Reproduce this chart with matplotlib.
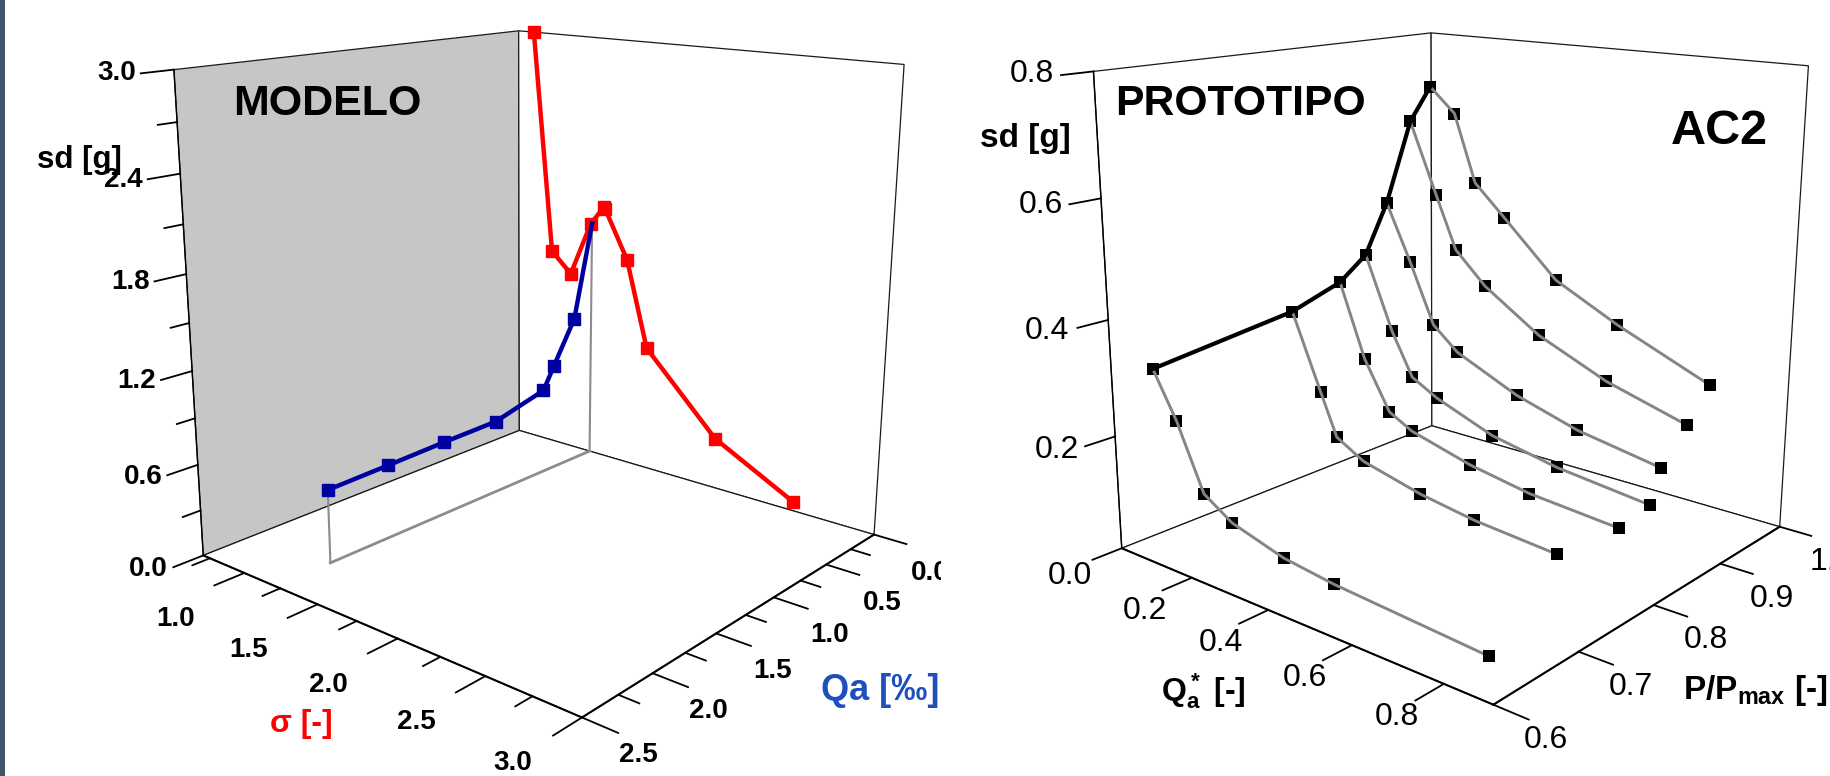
import matplotlib
matplotlib.use('Agg')
import matplotlib.pyplot as plt
from matplotlib.patches import Rectangle
from matplotlib.transforms import ScaledTranslation
from mpl_toolkits.mplot3d import proj3d

plt.rcParams['font.family'] = ['Liberation Sans', 'DejaVu Sans']
plt.rcParams['mathtext.fontset'] = 'custom'
plt.rcParams['mathtext.bf'] = 'Liberation Sans:bold'
plt.rcParams['mathtext.rm'] = 'Liberation Sans'

W, H = 1831, 776

# MODELO
red_sigma = [0.808, 0.941, 1.075, 1.211, 1.300, 1.309, 1.459, 1.599, 2.053, 2.538]
red_sd = [2.999, 1.448, 1.308, 1.701, 1.837, 1.821, 1.491, 0.887, 0.358, 0.063]
blue_sigma = 1.22
blue_qa = [2.135, 1.706, 1.286, 0.859, 0.440, 0.347, 0.159, 0.0]
blue_sd = [0.480, 0.489, 0.500, 0.506, 0.601, 0.751, 1.049, 1.705]
model_x_major = [1.0, 1.5, 2.0, 2.5, 3.0]
model_x_minor = [0.75, 1.25, 1.75, 2.25, 2.75]
model_y_major = [0.0, 0.5, 1.0, 1.5, 2.0, 2.5]
model_y_minor = [0.25, 0.75, 1.25, 1.75, 2.25]
model_z_major = [0.0, 0.6, 1.2, 1.8, 2.4, 3.0]
model_z_minor = [0.3, 0.9, 1.5, 2.1, 2.7]

# PROTOTIPO
proto_p = [0.607, 0.763, 0.823, 0.857, 0.886, 0.919, 0.947]
proto_qa = [
    [0.100, 0.159, 0.225, 0.297, 0.426, 0.546, 0.878],
    [0.100, 0.173, 0.215, 0.286, 0.431, 0.562, 0.750],
    [0.100, 0.165, 0.231, 0.291, 0.440, 0.585, 0.789],
    [0.100, 0.171, 0.225, 0.291, 0.434, 0.592, 0.804],
    [0.100, 0.164, 0.226, 0.290, 0.443, 0.591, 0.782],
    [0.100, 0.170, 0.223, 0.301, 0.439, 0.605, 0.791],
    [0.100, 0.166, 0.222, 0.300, 0.433, 0.584, 0.798],
]
proto_sd = [
    [0.332, 0.256, 0.147, 0.115, 0.089, 0.078, 0.061],
    [0.361, 0.228, 0.153, 0.124, 0.098, 0.083, 0.072],
    [0.390, 0.258, 0.171, 0.147, 0.117, 0.098, 0.086],
    [0.428, 0.295, 0.218, 0.191, 0.150, 0.126, 0.108],
    [0.515, 0.412, 0.304, 0.263, 0.211, 0.177, 0.151],
    [0.657, 0.528, 0.432, 0.375, 0.306, 0.251, 0.209],
    [0.715, 0.671, 0.548, 0.492, 0.395, 0.337, 0.267],
]
proto_x_ticks = [0.2, 0.4, 0.6, 0.8]
proto_y_ticks = [0.6, 0.7, 0.8, 0.9, 1.0]
proto_z_ticks = [0.0, 0.2, 0.4, 0.6, 0.8]


def make_axes(fig, lims, view, size, cx, cy, aspect, left_wall):
    ax = fig.add_axes([(cx - size/2)/W, 1 - (cy + size/2)/H, size/W, size/H], projection='3d')
    ax.patch.set_visible(False)
    ax.computed_zorder = False
    ax.set_xlim(*lims[0], view_margin=0)
    ax.set_ylim(*lims[1], view_margin=0)
    ax.set_zlim(*lims[2], view_margin=0)
    ax.view_init(elev=view[0], azim=view[1], roll=view[2])
    ax.set_proj_type('persp', focal_length=view[3])
    ax.set_box_aspect(aspect)
    ax.grid(False)
    ax.xaxis.set_pane_color(left_wall)
    ax.yaxis.set_pane_color('white')
    ax.zaxis.set_pane_color('white')
    for axis in (ax.xaxis, ax.yaxis, ax.zaxis):
        axis.pane.set_closed(True)
        axis.pane.set_edgecolor('#1a1a1a')
        axis.pane.set_linewidth(0.9)
        axis.line.set_color('black')
        axis.line.set_linewidth(1.5)
        axis._axinfo['tick']['outward_factor'] = 0.0
        axis._axinfo['tick']['inward_factor'] = 0.95
        axis._axinfo['tick']['linewidth'] = {True: 1.3, False: 1.3}
        axis.set_tick_params(label1On=False)
    ax.zaxis.line.set_linewidth(1.0)
    ax.zaxis._axinfo['juggled'] = (1, 2, 0)
    ax.zaxis._get_tickdir = lambda position: 1
    return ax


def tick_text(fig, ax, x, y, z, value, off, **kw):
    # anchored on the tick itself, moved by a fixed number of pixels
    px, py, _ = proj3d.proj_transform(x, y, z, ax.get_proj())
    trans = ax.transData + ScaledTranslation(off[0]/100, -off[1]/100, fig.dpi_scale_trans)
    ax.text2D(px, py, f'{value:.1f}', transform=trans, ha='center', va='center', **kw)


def set_ticks(fig, ax, xt, yt, zt, weight, size, xoff, yoff, zoffs):
    ax.set_xticks(xt)
    ax.set_yticks(yt)
    ax.set_zticks(zt)
    xlo, xhi = ax.get_xlim()
    ylo = ax.get_ylim()[0]
    zlo = ax.get_zlim()[0]
    for v in xt:
        tick_text(fig, ax, v, ylo, zlo, v, xoff, fontsize=size, fontweight=weight)
    for v in yt:
        tick_text(fig, ax, xhi, v, zlo, v, yoff, fontsize=size, fontweight=weight)
    for v, off in zip(zt, zoffs):
        tick_text(fig, ax, xlo, ylo, v, v, off, fontsize=size, fontweight=weight)


def minor_ticks(ax, xm, ym, zm):
    xlo, xhi = ax.get_xlim()
    ylo, yhi = ax.get_ylim()
    zlo = ax.get_zlim()[0]
    dx = (xhi - xlo)*0.045
    dy = (ylo - yhi)*0.045
    for v in xm:
        ax.plot([v, v], [ylo, ylo + dy], [zlo, zlo], color='black', lw=1.3, zorder=1)
    for v in ym:
        ax.plot([xhi, xhi + dx], [v, v], [zlo, zlo], color='black', lw=1.3, zorder=1)
    for v in zm:
        ax.plot([xlo, xlo], [ylo, ylo + dy], [v, v], color='black', lw=1.3, zorder=1)


def label(fig, x, y, text, **kw):
    fig.text(x/W, 1 - y/H, text, ha='center', va='center', **kw)


fig = plt.figure(figsize=(W/100, H/100), dpi=100, facecolor='white')

# left chart
ax1 = make_axes(fig, [(0.7, 3.0), (2.5, 0.0), (0.0, 3.0)], (15.77, -49.96, -0.1667, 0.3524),
                833.7, 533.7, 327.3, (1, 0.992, 0.9954), '#c6c6c6')
set_ticks(fig, ax1, model_x_major, model_y_major, model_z_major, 'bold', 20, (-69, 46), (56, 38),
          [(-55, 14), (-55, 12), (-56, 10), (-56, 8), (-57, 6), (-57, 3)])
minor_ticks(ax1, model_x_minor, model_y_minor, model_z_minor)

ax1.plot([blue_sigma, blue_sigma], [0, 0], [0, blue_sd[-1]], color='#8c8c8c', lw=1.5, zorder=2)
ax1.plot([blue_sigma, blue_sigma], [0, blue_qa[0]], [0, 0], color='#8c8c8c', lw=2, zorder=2)
ax1.plot([blue_sigma, blue_sigma], [blue_qa[0], blue_qa[0]], [0, blue_sd[0]], color='#8c8c8c', lw=1.5, zorder=2)
ax1.plot(red_sigma, [0.0]*len(red_sigma), red_sd, color='#fe0000', lw=3.2, marker='s', ms=8, zorder=3)
ax1.plot([blue_sigma]*len(blue_qa), blue_qa, blue_sd, color='#0000a0', lw=3.2, zorder=4)
ax1.plot([blue_sigma]*(len(blue_qa)-1), blue_qa[:-1], blue_sd[:-1], color='#0000a0', ls='none', marker='s', ms=8, zorder=4)

# right chart
ax2 = make_axes(fig, [(0.0, 0.9), (0.6, 1.0), (0.0, 0.8)], (15.67, -50.08, -0.1526, 0.3576),
                817.4, 1446, 323.7, (1, 0.996, 0.9976), 'white')
set_ticks(fig, ax2, proto_x_ticks, proto_y_ticks, proto_z_ticks, 'normal', 23, (-47, 33), (52, 35),
          [(-52, 28), (-58, 14), (-61, 11), (-60, 7), (-62, 3)])
for qa, sd, p in zip(proto_qa, proto_sd, proto_p):
    ax2.plot(qa, [p]*len(qa), sd, color='black', ls='none', marker='s', ms=8, mew=0, zorder=3)
    ax2.plot(qa, [p]*len(qa), sd, color='#858585', lw=2.1, zorder=3.5)
    ax2.plot(qa[-1:], [p], sd[-1:], color='black', ls='none', marker='s', ms=8, mew=0, zorder=3.6)
ax2.plot([q[0] for q in proto_qa], proto_p, [s[0] for s in proto_sd], color='black', lw=3, zorder=4)

# text
label(fig, 327, 104, 'MODELO', fontsize=31, fontweight='bold')
label(fig, 79, 160, 'sd [g]', fontsize=22.5, fontweight='bold')
label(fig, 301, 724, 'σ [-]', fontsize=23, fontweight='bold', color='#fe0000')
label(fig, 880, 691, 'Qa [‰]', fontsize=26, fontweight='bold', color='#1f4fbf')
label(fig, 1240, 104, 'PROTOTIPO', fontsize=30.7, fontweight='bold')
label(fig, 1719, 132, 'AC2', fontsize=35, fontweight='bold')
label(fig, 1025, 138, 'sd [g]', fontsize=24, fontweight='bold')
label(fig, 1203, 691, r'$\mathbf{Q_a^*}$ [-]', fontsize=23, fontweight='bold')
fig.text(1683/W, 1 - 691/H, r'P/P$_{\mathbf{max}}$ [-]', ha='left', va='center', fontsize=24, fontweight='bold')

fig.add_artist(Rectangle((941/W, 0), 34/W, 1, transform=fig.transFigure, fc='white', ec='none', zorder=5))
fig.add_artist(Rectangle((0, 0), 5/W, 1, transform=fig.transFigure, fc='#44546f', ec='none', zorder=5))

fig.savefig('out.png', dpi=100)
